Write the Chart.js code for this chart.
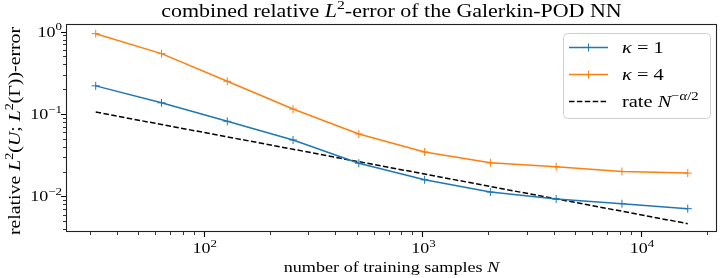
<!DOCTYPE html>
<html>
<head>
<meta charset="utf-8">
<script src="https://cdn.jsdelivr.net/npm/chart.js@4"></script>
<style>
  html, body { margin: 0; padding: 0; background: #fff; }
  #wrap { width: 722px; height: 278px; position: relative; }
</style>
</head>
<body>
<div id="wrap"><canvas id="errores"></canvas></div>
<script>
// datos
const muestras = [32, 64, 128, 256, 512, 1024, 2048, 4096, 8192, 16384];
const kappa1 = [0.22, 0.137, 0.0816, 0.0485, 0.0253, 0.0159, 0.0113, 0.0093, 0.00817, 0.0071];
const kappa4 = [0.946, 0.542, 0.25, 0.115, 0.0573, 0.0347, 0.0256, 0.0229, 0.0201, 0.0192];
const tasa = [0.1057, 0.0747, 0.0529, 0.0374, 0.0264, 0.0187, 0.0132, 0.00934, 0.00661, 0.00467];
const xMayores = [100, 1000, 10000];
const xMenores = [30, 40, 50, 60, 70, 80, 90, 200, 300, 400, 500, 600, 700, 800, 900,
  2000, 3000, 4000, 5000, 6000, 7000, 8000, 9000, 20000];
const yMayores = [1, 0.1, 0.01];
const yMenores = [0.004, 0.005, 0.006, 0.007, 0.008, 0.009, 0.02, 0.03, 0.04, 0.05, 0.06,
  0.07, 0.08, 0.09, 0.2, 0.3, 0.4, 0.5, 0.6, 0.7, 0.8, 0.9];
const xEtiquetas = [['10', '2'], ['10', '3'], ['10', '4']];
const yEtiquetas = [['10', '0'], ['10', '\u22121'], ['10', '\u22122']];

const FUENTE = '"Liberation Serif", "DejaVu Serif", serif';
const azul = '#1f77b4';
const naranja = '#ff7f0e';

const puntos = (ys) => muestras.map((n, i) => ({ x: n, y: ys[i] }));

// texto con cursiva y superindices: [texto, 'i' | 's' | 'si' | '']
// k estira el texto en horizontal para parecerse a Computer Modern
function fuente(ctx, f, tam) {
  const s = f.includes('s') ? tam * 0.72 : tam;
  ctx.font = (f.includes('i') ? 'italic ' : '') + s + 'px ' + FUENTE;
}
function escribir(ctx, runs, x, y, tam, align, k = 1.2) {
  let w = 0;
  for (const [t, f] of runs) { fuente(ctx, f, tam); w += ctx.measureText(t).width; }
  const x0 = align === 'center' ? x - w * k / 2 : align === 'right' ? x - w * k : x;
  ctx.save();
  ctx.translate(x0, y);
  ctx.scale(k, 1);
  ctx.textBaseline = 'alphabetic';
  ctx.textAlign = 'left';
  ctx.fillStyle = '#000';
  let cx = 0;
  for (const [t, f] of runs) {
    fuente(ctx, f, tam);
    ctx.fillText(t, cx, f.includes('s') ? -tam * 0.42 : 0);
    cx += ctx.measureText(t).width;
  }
  ctx.restore();
}

const marco = {
  id: 'marco',
  afterDatasetsDraw(chart) {
    const { ctx, chartArea: a, scales } = chart;
    const sx = scales.x, sy = scales.y;
    ctx.save();
    // marcas de los ejes
    ctx.strokeStyle = '#000';
    const marca = (vals, largo, ancho, eje) => {
      ctx.lineWidth = ancho;
      ctx.beginPath();
      for (const v of vals) {
        if (eje === 'x') {
          const px = Math.round(sx.getPixelForValue(v)) + 0.5;
          ctx.moveTo(px, a.bottom); ctx.lineTo(px, a.bottom + largo);
        } else {
          const py = Math.round(sy.getPixelForValue(v)) + 0.5;
          ctx.moveTo(a.left, py); ctx.lineTo(a.left - largo, py);
        }
      }
      ctx.stroke();
    };
    marca(xMayores, 5, 1.1, 'x');
    marca(xMenores, 3, 0.8, 'x');
    marca(yMayores, 5, 1.1, 'y');
    marca(yMenores, 3, 0.8, 'y');
    // marco
    ctx.lineWidth = 1.1;
    ctx.strokeStyle = '#222';
    ctx.strokeRect(a.left + 0.5, a.top + 0.5, a.right - a.left - 1, a.bottom - a.top - 1);

    // etiquetas de las marcas
    xMayores.forEach((v, i) => {
      const [b, e] = xEtiquetas[i];
      escribir(ctx, [[b, ''], [e, 's']], sx.getPixelForValue(v) + 1, a.bottom + 21, 15, 'center');
    });
    yMayores.forEach((v, i) => {
      const [b, e] = yEtiquetas[i];
      escribir(ctx, [[b, ''], [e, 's']], a.left - 4, sy.getPixelForValue(v) + 5, 15, 'right');
    });

    // titulos
    escribir(ctx, [['combined relative ', ''], ['L', 'i'], ['2', 's'],
      ['-error of the Galerkin-POD NN', '']], (a.left + a.right) / 2, 17, 18, 'center', 1.22);
    escribir(ctx, [['number of training samples ', ''], ['N', 'i']],
      (a.left + a.right) / 2, 272, 15.5, 'center', 1.17);
    ctx.save();
    ctx.translate(20, (a.top + a.bottom) / 2 + 3);
    ctx.rotate(-Math.PI / 2);
    escribir(ctx, [['relative ', ''], ['L', 'i'], ['2', 's'], ['(', ''], ['U', 'i'], ['; ', ''],
      ['L', 'i'], ['2', 's'], ['(\u0393))-error', '']], 0, 0, 16.5, 'center', 1.2);
    ctx.restore();

    // leyenda
    const lx = 563, ly = 33, lw = 147, lh = 85;
    ctx.beginPath();
    ctx.roundRect(lx + 0.5, ly + 0.5, lw, lh, 4);
    ctx.fillStyle = 'rgba(255,255,255,0.8)';
    ctx.fill();
    ctx.strokeStyle = '#d0d0d0';
    ctx.lineWidth = 1;
    ctx.stroke();
    const filas = [
      { ds: 0, runs: [['\u03ba', 'i'], [' = 1', '']] },
      { ds: 1, runs: [['\u03ba', 'i'], [' = 4', '']] },
      { ds: 2, runs: [['rate ', ''], ['N', 'i'], ['\u2212', 's'], ['\u03b1', 'si'], ['/2', 's']] }
    ];
    filas.forEach((f, i) => {
      const d = chart.data.datasets[f.ds];
      const y = ly + 14.5 + i * 27;
      ctx.strokeStyle = d.borderColor;
      ctx.lineWidth = 1.5;
      ctx.setLineDash(d.borderDash || []);
      ctx.beginPath();
      ctx.moveTo(569, y); ctx.lineTo(608, y);
      ctx.stroke();
      ctx.setLineDash([]);
      if (d.pointRadius > 0) {
        ctx.lineWidth = 1;
        ctx.beginPath();
        ctx.moveTo(588.5, y - 4); ctx.lineTo(588.5, y + 4);
        ctx.moveTo(584.5, y); ctx.lineTo(592.5, y);
        ctx.stroke();
      }
      escribir(ctx, f.runs, 622, y + 5.5, 17, 'left', 1.2);
    });
    ctx.restore();
  }
};

new Chart(document.getElementById('errores'), {
  type: 'line',
  data: {
    datasets: [
      {
        label: '\u03ba = 1', data: puntos(kappa1), borderColor: azul, backgroundColor: azul,
        borderWidth: 1.5, pointStyle: 'cross', pointRadius: 4, pointBorderWidth: 1, tension: 0
      },
      {
        label: '\u03ba = 4', data: puntos(kappa4), borderColor: naranja, backgroundColor: naranja,
        borderWidth: 1.5, pointStyle: 'cross', pointRadius: 4, pointBorderWidth: 1, tension: 0
      },
      {
        label: 'rate N^-\u03b1/2', data: puntos(tasa), borderColor: '#000', borderWidth: 1.5,
        borderDash: [5.5, 2.4], pointRadius: 0, tension: 0
      }
    ]
  },
  options: {
    responsive: true,
    maintainAspectRatio: false,
    animation: false,
    layout: { padding: { top: 24, right: 2, left: 0, bottom: 0 } },
    plugins: { legend: { display: false }, title: { display: false }, tooltip: { enabled: false } },
    scales: {
      x: {
        type: 'logarithmic', min: 23.4, max: 22300,
        ticks: { display: false }, grid: { display: false }, border: { display: false },
        afterFit: (s) => { s.height = 46; }
      },
      y: {
        type: 'logarithmic', min: 0.0037, max: 1.24,
        ticks: { display: false }, grid: { display: false }, border: { display: false },
        afterFit: (s) => { s.width = 66; }
      }
    }
  },
  plugins: [marco]
});
</script>
</body>
</html>
